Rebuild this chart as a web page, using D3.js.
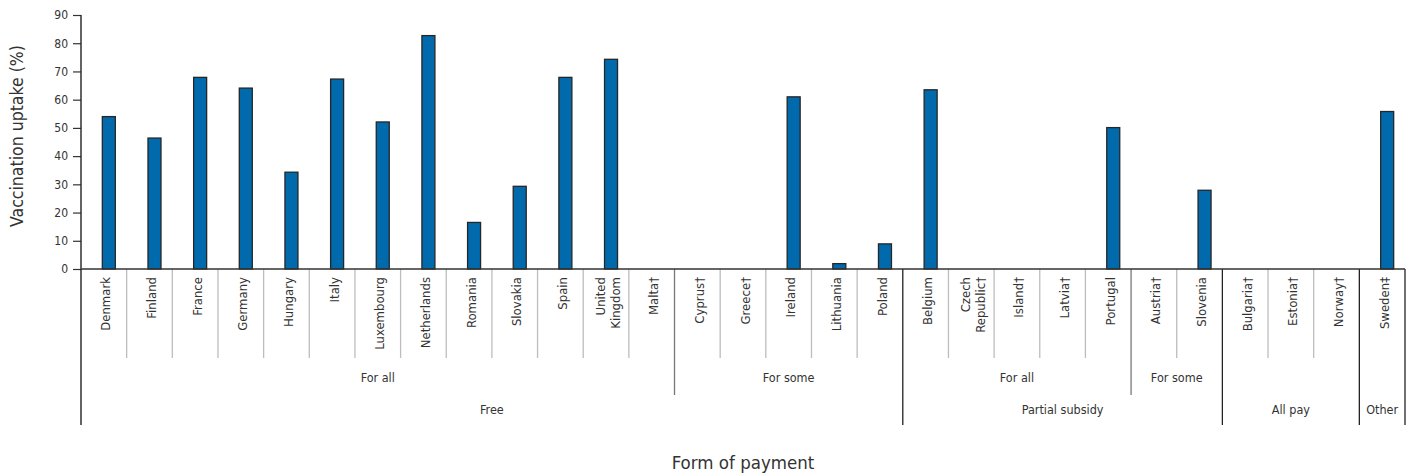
<!DOCTYPE html>
<html>
<head>
<meta charset="utf-8">
<script src="https://cdn.jsdelivr.net/npm/d3@7"></script>
<style>
  html, body { margin: 0; padding: 0; background: #fff; }
  svg { display: block; font-family: "DejaVu Sans Condensed", "Liberation Sans Narrow", "DejaVu Sans", sans-serif; }
</style>
</head>
<body>
<svg id="chart" width="1410" height="474"></svg>
<script>
// ---- data ----
const categories = ["Denmark", "Finland", "France", "Germany", "Hungary", "Italy", "Luxembourg",
  "Netherlands", "Romania", "Slovakia", "Spain", "United\nKingdom", "Malta†",
  "Cyprus†", "Greece†", "Ireland", "Lithuania", "Poland",
  "Belgium", "Czech\nRepublic†", "Island†", "Latvia†", "Portugal",
  "Austria†", "Slovenia",
  "Bulgaria†", "Estonia†", "Norway†",
  "Sweden‡"];
const uptake = [54.0, 46.4, 67.9, 64.1, 34.3, 67.3, 52.1,
  82.7, 16.5, 29.3, 67.9, 74.3, null,
  null, null, 61.0, 1.9, 8.9,
  63.5, null, null, null, 50.1,
  null, 27.9,
  null, null, null,
  55.8];
const subGroupLabels = ["For all", "For some", "For all", "For some", "", ""];
const subGroupSizes = [13, 5, 5, 2, 3, 1];
const groupLabels = ["Free", "Partial subsidy", "All pay", "Other"];
const groupSizes = [18, 7, 3, 1];
const yTicks = [0, 10, 20, 30, 40, 50, 60, 70, 80, 90];
const yTitle = "Vaccination uptake (%)";
const xTitle = "Form of payment";

// ---- layout ----
const pLeft = 81, pRight = 1405, pTop = 15, pBase = 269;
const svg = d3.select("#chart");
const x = d3.scaleBand().domain(d3.range(categories.length)).range([pLeft, pRight]).padding(0);
const y = d3.scaleLinear().domain([0, 90]).range([pBase, pTop]);
const bw = x.bandwidth();
const barW = 13, barOff = 5;
const textCol = "#333";

function cumulative(sizes) { let s = 0; return sizes.map(v => (s += v)); }
const subEnds = cumulative(subGroupSizes);
const grpEnds = cumulative(groupSizes);

// separators
for (let i = 1; i < categories.length; i++) {
  const xx = x(i);
  let y2 = 358, col = "#bdbdbd", w = 1.3;
  if (grpEnds.includes(i)) { y2 = 425; col = "#222"; }
  else if (subEnds.includes(i)) { y2 = 395; col = "#777"; }
  svg.append("line").attr("x1", xx).attr("x2", xx).attr("y1", pBase).attr("y2", y2)
    .attr("stroke", col).attr("stroke-width", w);
}
svg.append("line").attr("x1", pRight).attr("x2", pRight).attr("y1", pBase).attr("y2", 425)
  .attr("stroke", "#222").attr("stroke-width", 1.3);

// bars
svg.append("g").selectAll("rect")
  .data(uptake.map((v, i) => ({ v, i })).filter(d => d.v !== null))
  .join("rect")
  .attr("x", d => x(d.i) + bw / 2 + barOff - barW / 2)
  .attr("y", d => y(d.v))
  .attr("width", barW)
  .attr("height", d => pBase - y(d.v))
  .attr("fill", "#006aad")
  .attr("stroke", "#262626")
  .attr("stroke-width", 1.3);

// y axis
const yAxis = d3.axisLeft(y).tickValues(yTicks).tickSize(8).tickPadding(5);
const gy = svg.append("g").attr("transform", `translate(${pLeft},0)`).call(yAxis);
gy.select(".domain").remove();
gy.selectAll(".tick line").attr("stroke", "#333").attr("stroke-width", 1.2);
gy.selectAll(".tick text").attr("fill", textCol).style("font-size", "12px")
  .style("font-family", "'DejaVu Sans Condensed', sans-serif");
svg.append("line").attr("x1", pLeft).attr("x2", pLeft).attr("y1", pTop).attr("y2", 425)
  .attr("stroke", "#222").attr("stroke-width", 1.4);

// x axis line
svg.append("line").attr("x1", pLeft).attr("x2", pRight).attr("y1", pBase).attr("y2", pBase)
  .attr("stroke", "#333").attr("stroke-width", 1.4);

// category labels
categories.forEach((c, i) => {
  const lines = c.split("\n");
  const cx = x(i) + bw / 2 + 2;
  const spacing = 15;
  lines.forEach((ln, k) => {
    const off = (k - (lines.length - 1) / 2) * spacing;
    svg.append("text")
      .attr("transform", `translate(${cx + off},277) rotate(-90)`)
      .attr("dy", "0.35em")
      .attr("text-anchor", "end")
      .attr("fill", textCol)
      .style("font-size", "13px")
      .text(ln);
  });
});

// sub-group labels
let start = 0;
subGroupSizes.forEach((n, k) => {
  const x0 = x(start), x1 = (start + n < categories.length) ? x(start + n) : pRight;
  if (subGroupLabels[k]) {
    svg.append("text").attr("x", (x0 + x1) / 2).attr("y", 378).attr("dy", "0.35em")
      .attr("text-anchor", "middle").attr("fill", textCol).style("font-size", "12.5px")
      .text(subGroupLabels[k]);
  }
  start += n;
});

// group labels
start = 0;
groupSizes.forEach((n, k) => {
  const x0 = x(start), x1 = (start + n < categories.length) ? x(start + n) : pRight;
  svg.append("text").attr("x", (x0 + x1) / 2).attr("y", 410).attr("dy", "0.35em")
    .attr("text-anchor", "middle").attr("fill", textCol).style("font-size", "12.5px")
    .text(groupLabels[k]);
  start += n;
});

// axis titles
svg.append("text").attr("transform", "translate(17,136) rotate(-90)").attr("dy", "0.35em")
  .attr("text-anchor", "middle").attr("fill", textCol).style("font-size", "17.5px").text(yTitle);
svg.append("text").attr("x", 743).attr("y", 463).attr("dy", "0.35em")
  .attr("text-anchor", "middle").attr("fill", textCol).style("font-size", "18.5px").text(xTitle);
</script>
</body>
</html>
